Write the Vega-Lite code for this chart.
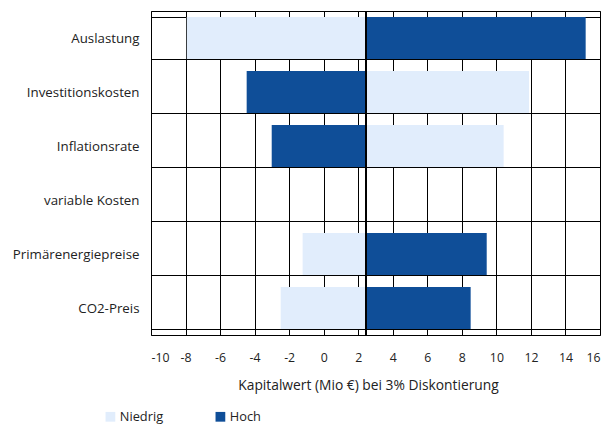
{
  "$schema": "https://vega.github.io/schema/vega-lite/v6.json",
  "width": 449,
  "height": 324,
  "autosize": {"type": "none"},
  "padding": {"left": 151, "top": 11, "right": 11, "bottom": 89},
  "background": "white",
  "config": {
    "font": "Open Sans",
    "view": {"stroke": "#000", "strokeWidth": 1},
    "axis": {"labelColor": "#222", "titleColor": "#222"}
  },
  "data": {
    "values": [
      {"param": "Auslastung", "level": "Niedrig", "value": -7.93},
      {"param": "Auslastung", "level": "Hoch", "value": 15.17},
      {"param": "Investitionskosten", "level": "Niedrig", "value": 11.89},
      {"param": "Investitionskosten", "level": "Hoch", "value": -4.46},
      {"param": "Inflationsrate", "level": "Niedrig", "value": 10.42},
      {"param": "Inflationsrate", "level": "Hoch", "value": -3.01},
      {"param": "Primärenergiepreise", "level": "Niedrig", "value": -1.22},
      {"param": "Primärenergiepreise", "level": "Hoch", "value": 9.44},
      {"param": "CO2-Preis", "level": "Niedrig", "value": -2.49},
      {"param": "CO2-Preis", "level": "Hoch", "value": 8.51}
    ]
  },
  "layer": [
    {
      "mark": {"type": "bar"},
      "encoding": {
        "y": {
          "field": "param",
          "type": "nominal",
          "scale": {
            "domain": ["Auslastung", "Investitionskosten", "Inflationsrate", "variable Kosten", "Primärenergiepreise", "CO2-Preis"],
            "paddingInner": 0.22,
            "paddingOuter": 0.11
          },
          "axis": {
            "title": null,
            "tickBand": "extent",
            "grid": true,
            "gridColor": "#000",
            "gridOpacity": 1,
            "gridWidth": 1,
            "ticks": false,
            "domain": false,
            "labelFontSize": 13.3,
            "labelPadding": 12
          }
        },
        "x": {
          "field": "value",
          "type": "quantitative",
          "scale": {"domain": [-10, 16], "nice": false, "zero": false},
          "axis": {
            "values": [-10, -8, -6, -4, -2, 0, 2, 4, 6, 8, 10, 12, 14, 16],
            "tickCount": 30,
            "labelExpr": "replace(datum.label, '−', '-')",
            "labelOverlap": false,
            "grid": true,
            "gridColor": "#000",
            "gridOpacity": 1,
            "gridWidth": 1,
            "ticks": false,
            "domain": false,
            "labelFontSize": 12.3,
            "labelPadding": 16,
            "title": "Kapitalwert (Mio €) bei 3% Diskontierung",
            "titleFontSize": 13.8,
            "titleFontWeight": "normal",
            "titlePadding": 15,
            "titleX": 217,
            "titleAlign": "center"
          }
        },
        "x2": {"datum": 2.45},
        "color": {
          "field": "level",
          "type": "nominal",
          "scale": {"domain": ["Niedrig", "Hoch"], "range": ["#e1edfc", "#0f4e98"]},
          "legend": {
            "orient": "none",
            "legendX": -47,
            "legendY": 399,
            "direction": "horizontal",
            "title": null,
            "padding": 0,
            "symbolType": "square",
            "symbolSize": 95,
            "symbolStrokeWidth": 0,
            "symbolOpacity": 1,
            "labelFontSize": 12.8,
            "labelColor": "#222",
            "labelOffset": 3,
            "columnPadding": 50
          }
        }
      }
    },
    {
      "mark": {"type": "rule", "color": "#000", "strokeWidth": 1.3},
      "encoding": {"x": {"datum": 2.45}}
    }
  ]
}
